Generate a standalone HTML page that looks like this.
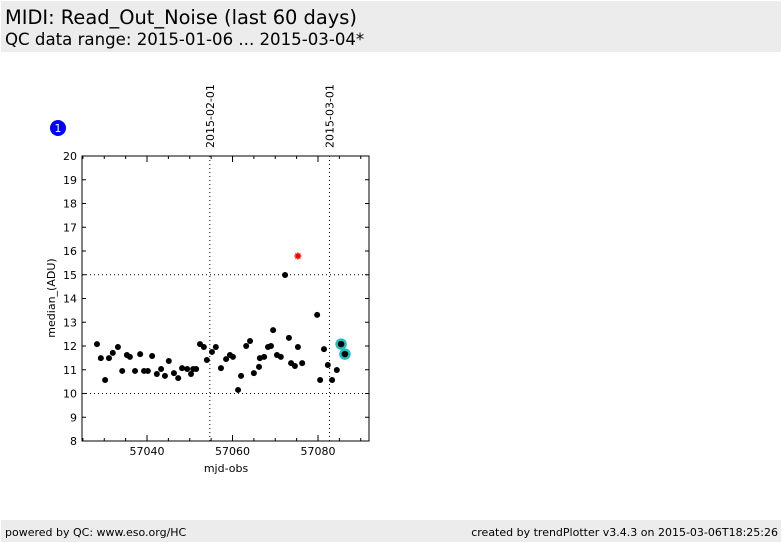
<!DOCTYPE html>
<html><head><meta charset="utf-8"><style>
body{margin:0;width:782px;height:542px;background:#fff;font-family:"DejaVu Sans","Liberation Sans",sans-serif;overflow:hidden;position:relative}
.hdr{position:absolute;left:1px;top:1px;width:780px;height:51px;background:#ececec}
.t1{position:absolute;left:4px;top:5px;font-size:19.4px;color:#000}
.t2{position:absolute;left:4px;top:29px;font-size:16.6px;color:#000}
.ftr{position:absolute;left:1px;top:520px;width:780px;height:22px;background:#ececec;font-size:11px}
</style></head><body>
<div class="hdr">
<div class="t1">MIDI: Read_Out_Noise (last 60 days)</div>
<div class="t2">QC data range: 2015-01-06 ... 2015-03-04*</div>
</div>
<svg id="chart" width="782" height="542" style="position:absolute;left:0;top:0"></svg>
<div class="ftr">
<span style="position:absolute;left:4px;top:6px">powered by QC: www.eso.org/HC</span>
<span style="position:absolute;right:3px;top:6px">created by trendPlotter v3.4.3 on 2015-03-06T18:25:26</span>
</div>
<script>
const mjd=[57028.3,57029.2,57030.2,57031.1,57032.0,57033.2,57034.2,57035.3,57036.0,57037.2,57038.4,57039.3,57040.2,57041.2,57042.3,57043.3,57044.2,57045.1,57046.3,57047.3,57048.2,57049.4,57050.3,57050.8,57051.5,57052.4,57053.3,57054.0,57055.2,57056.1,57057.3,57058.5,57059.4,57060.1,57061.3,57062.0,57063.2,57064.1,57065.0,57066.2,57066.4,57067.4,57068.3,57069.0,57069.5,57070.4,57071.3,57072.3,57073.2,57073.7,57074.6,57075.3,57076.3,57079.8,57080.5,57081.4,57082.3,57083.3,57084.4];
const vals=[12.08,11.49,10.57,11.49,11.71,11.96,10.95,11.62,11.54,10.95,11.66,10.95,10.95,11.58,10.82,11.03,10.74,11.37,10.86,10.65,11.07,11.03,10.82,11.03,11.03,12.08,11.96,11.41,11.75,11.96,11.07,11.45,11.62,11.54,10.15,10.74,12.0,12.21,10.86,11.12,11.49,11.54,11.96,12.0,12.67,11.62,11.54,14.99,12.34,11.28,11.16,11.96,11.28,13.31,10.57,11.87,11.2,10.57,10.99];
const hiMjd=[57085.4,57086.3];
const hiVals=[12.08,11.66];
const outMjd=[57075.3];
const outVals=[15.79];
const yTicks=[8,9,10,11,12,13,14,15,16,17,18,19,20];
const xTicks=[57040,57060,57080];
const dateMjd=[57054.7,57082.7];
const dateLabels=["2015-02-01","2015-03-01"];
const L=82,R=369,T=156,B=441;
const X=v=>147+(v-57040)*4.275;
const Y=v=>B-(v-8)*(B-T)/12;
const s=document.getElementById('chart');const NS='http://www.w3.org/2000/svg';
function mk(t,a){const e=document.createElementNS(NS,t);for(const k in a)e.setAttribute(k,a[k]);s.appendChild(e);return e;}
let e;
e=mk('rect',{x:L,y:T,width:R-L,height:B-T,fill:'none',stroke:'#000','stroke-width':1});


[10,15].forEach(v=>{e=mk('line',{x1:L,x2:R,y1:Y(v),y2:Y(v),stroke:'#000','stroke-dasharray':'1,3'});

});
dateMjd.forEach((d,i)=>{const x=X(d);
e=mk('line',{x1:x,x2:x,y1:T,y2:B,stroke:'#000','stroke-dasharray':'1,3'});


e=mk('text',{x:0,y:0,transform:`translate(${x+4},148) rotate(-90)`,'font-size':11,'font-family':'DejaVu Sans, sans-serif'});e.textContent=dateLabels[i];

});
yTicks.forEach(v=>{const y=Y(v);
mk('line',{x1:L,x2:L+4,y1:y,y2:y,stroke:'#000'});mk('line',{x1:R-4,x2:R,y1:y,y2:y,stroke:'#000'});
e=mk('text',{x:77,y:y+4,'text-anchor':'end','font-size':11,'font-family':'DejaVu Sans, sans-serif'});e.textContent=v;

});
for(let m=57025;m<=57090;m+=5){const x=X(m);if(x<L||x>R)continue;const len=xTicks.includes(m)?6:3;
mk('line',{x1:x,x2:x,y1:B,y2:B-len,stroke:'#000'});mk('line',{x1:x,x2:x,y1:T,y2:T+len,stroke:'#000'});}
xTicks.forEach(v=>{e=mk('text',{x:X(v),y:455,'text-anchor':'middle','font-size':11,'font-family':'DejaVu Sans, sans-serif'});e.textContent=v;

});
e=mk('text',{x:226,y:472,'text-anchor':'middle','font-size':11,'font-family':'DejaVu Sans, sans-serif'});e.textContent='mjd-obs';


e=mk('text',{x:0,y:0,transform:'translate(55,298) rotate(-90)','text-anchor':'middle','font-size':11,'font-family':'DejaVu Sans, sans-serif'});e.textContent='median_(ADU)';


mjd.forEach((m,i)=>{e=mk('circle',{cx:X(m),cy:Y(vals[i]),r:3,fill:'#000'});

});
hiMjd.forEach((m,i)=>{e=mk('circle',{cx:X(m),cy:Y(hiVals[i]),r:4.5,fill:'#000',stroke:'#20c0c0','stroke-width':2.5});

});
outMjd.forEach((m,i)=>{const x=X(m),y=Y(outVals[i]);
e=mk('path',{d:`M${x-3.5},${y}H${x+3.5}M${x},${y-3.5}V${y+3.5}M${x-2.5},${y-2.5}L${x+2.5},${y+2.5}M${x-2.5},${y+2.5}L${x+2.5},${y-2.5}`,stroke:'#f00','stroke-width':1.5});

});
e=mk('circle',{cx:58,cy:128,r:8,fill:'#0000ff'});


e=mk('text',{x:58,y:132,'text-anchor':'middle','font-size':11,fill:'#fff','font-family':'DejaVu Sans, sans-serif'});e.textContent='1';


</script>
</body></html>
